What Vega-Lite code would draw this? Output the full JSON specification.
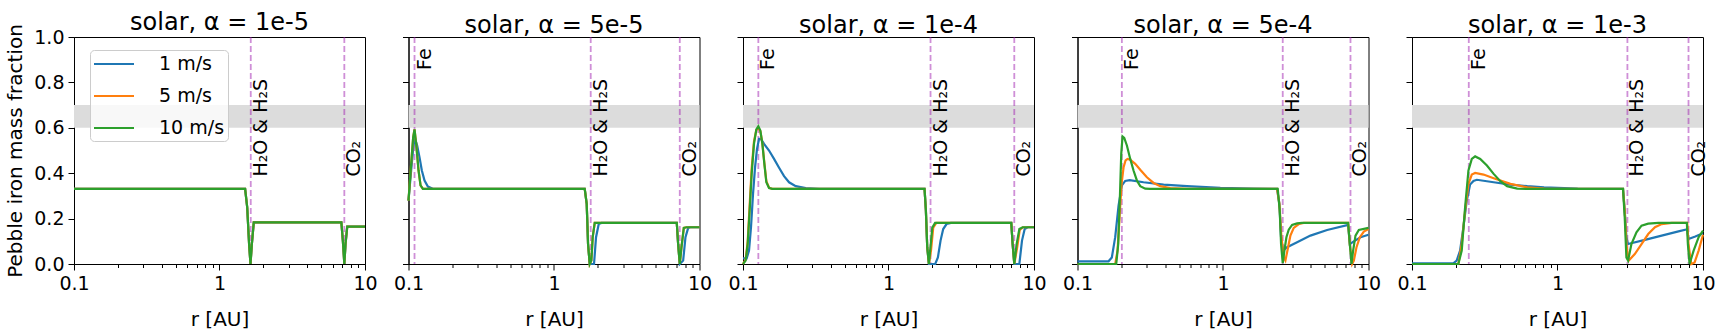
{
  "$schema": "https://vega.github.io/schema/vega-lite/v6.json",
  "background": "white",
  "bounds": "flush",
  "spacing": 43.5,
  "padding": {"top": 10, "left": 5, "right": 5, "bottom": 5},
  "config": {
    "font": "DejaVu Sans",
    "view": {"stroke": "#000000", "strokeWidth": 1},
    "axis": {"grid": false, "domainColor": "#000000", "tickColor": "#000000", "labelColor": "#000000", "titleColor": "#000000", "labelFontSize": 19, "titleFontSize": 20, "titleFontWeight": "normal", "domainWidth": 1, "tickWidth": 1},
    "title": {"fontSize": 24, "fontWeight": "normal", "color": "#000000", "offset": -1.5, "baseline": "alphabetic"},
    "legend": {"orient": "none", "legendX": 16, "legendY": 13, "title": null, "symbolType": "M-2,0L2,0", "symbolSize": 400, "symbolOffset": 10, "symbolStrokeWidth": 2, "labelFontSize": 19, "rowPadding": 11, "labelOffset": 34, "padding": 3, "strokeColor": "#cccccc", "fillColor": "rgba(255,255,255,0.8)", "cornerRadius": 4}
  },
  "datasets": {
    "band": [{"lo": 0.6, "hi": 0.7}],
    "snow": [
      {"p": 1, "n": "H₂O & H₂S", "r": 1.64},
      {"p": 1, "n": "CO₂", "r": 7.21},
      {"p": 2, "n": "Fe", "r": 0.110},
      {"p": 2, "n": "H₂O & H₂S", "r": 1.788},
      {"p": 2, "n": "CO₂", "r": 7.32},
      {"p": 3, "n": "Fe", "r": 0.1275},
      {"p": 3, "n": "H₂O & H₂S", "r": 1.945},
      {"p": 3, "n": "CO₂", "r": 7.32},
      {"p": 4, "n": "Fe", "r": 0.2018},
      {"p": 4, "n": "H₂O & H₂S", "r": 2.574},
      {"p": 4, "n": "CO₂", "r": 7.52},
      {"p": 5, "n": "Fe", "r": 0.2456},
      {"p": 5, "n": "H₂O & H₂S", "r": 3.023},
      {"p": 5, "n": "CO₂", "r": 7.95}
    ],
    "curves": [
      {"p":1,"s":"1 m/s","r":0.1,"f":0.331},{"p":1,"s":"1 m/s","r":1.5,"f":0.331},{"p":1,"s":"1 m/s","r":1.55,"f":0.25},{"p":1,"s":"1 m/s","r":1.6,"f":0.08},{"p":1,"s":"1 m/s","r":1.633,"f":0.0},{"p":1,"s":"1 m/s","r":1.67,"f":0.09},{"p":1,"s":"1 m/s","r":1.72,"f":0.183},{"p":1,"s":"1 m/s","r":6.88,"f":0.183},{"p":1,"s":"1 m/s","r":7.05,"f":0.1},{"p":1,"s":"1 m/s","r":7.21,"f":0.0},{"p":1,"s":"1 m/s","r":7.35,"f":0.09},{"p":1,"s":"1 m/s","r":7.55,"f":0.165},{"p":1,"s":"1 m/s","r":10,"f":0.165},
      {"p":1,"s":"5 m/s","r":0.1,"f":0.331},{"p":1,"s":"5 m/s","r":1.5,"f":0.331},{"p":1,"s":"5 m/s","r":1.55,"f":0.25},{"p":1,"s":"5 m/s","r":1.6,"f":0.08},{"p":1,"s":"5 m/s","r":1.633,"f":0.0},{"p":1,"s":"5 m/s","r":1.67,"f":0.09},{"p":1,"s":"5 m/s","r":1.72,"f":0.183},{"p":1,"s":"5 m/s","r":6.88,"f":0.183},{"p":1,"s":"5 m/s","r":7.05,"f":0.1},{"p":1,"s":"5 m/s","r":7.21,"f":0.0},{"p":1,"s":"5 m/s","r":7.35,"f":0.09},{"p":1,"s":"5 m/s","r":7.55,"f":0.165},{"p":1,"s":"5 m/s","r":10,"f":0.165},
      {"p":1,"s":"10 m/s","r":0.1,"f":0.331},{"p":1,"s":"10 m/s","r":1.5,"f":0.331},{"p":1,"s":"10 m/s","r":1.55,"f":0.25},{"p":1,"s":"10 m/s","r":1.6,"f":0.08},{"p":1,"s":"10 m/s","r":1.633,"f":0.0},{"p":1,"s":"10 m/s","r":1.67,"f":0.09},{"p":1,"s":"10 m/s","r":1.72,"f":0.183},{"p":1,"s":"10 m/s","r":6.88,"f":0.183},{"p":1,"s":"10 m/s","r":7.05,"f":0.1},{"p":1,"s":"10 m/s","r":7.21,"f":0.0},{"p":1,"s":"10 m/s","r":7.35,"f":0.09},{"p":1,"s":"10 m/s","r":7.55,"f":0.165},{"p":1,"s":"10 m/s","r":10,"f":0.165},

      {"p":2,"s":"1 m/s","r":0.1,"f":0.279},{"p":2,"s":"1 m/s","r":0.1043,"f":0.412},{"p":2,"s":"1 m/s","r":0.1082,"f":0.522},{"p":2,"s":"1 m/s","r":0.1111,"f":0.551},{"p":2,"s":"1 m/s","r":0.1147,"f":0.522},{"p":2,"s":"1 m/s","r":0.119,"f":0.471},{"p":2,"s":"1 m/s","r":0.1235,"f":0.412},{"p":2,"s":"1 m/s","r":0.1289,"f":0.368},{"p":2,"s":"1 m/s","r":0.1359,"f":0.341},{"p":2,"s":"1 m/s","r":0.147,"f":0.331},{"p":2,"s":"1 m/s","r":1.626,"f":0.331},{"p":2,"s":"1 m/s","r":1.678,"f":0.265},{"p":2,"s":"1 m/s","r":1.714,"f":0.088},{"p":2,"s":"1 m/s","r":1.76,"f":0.0},{"p":2,"s":"1 m/s","r":1.884,"f":0.0},{"p":2,"s":"1 m/s","r":1.945,"f":0.118},{"p":2,"s":"1 m/s","r":2.03,"f":0.176},{"p":2,"s":"1 m/s","r":2.117,"f":0.181},{"p":2,"s":"1 m/s","r":6.98,"f":0.181},{"p":2,"s":"1 m/s","r":7.13,"f":0.088},{"p":2,"s":"1 m/s","r":7.32,"f":0.0},{"p":2,"s":"1 m/s","r":7.72,"f":0.015},{"p":2,"s":"1 m/s","r":8.01,"f":0.118},{"p":2,"s":"1 m/s","r":8.36,"f":0.159},{"p":2,"s":"1 m/s","r":8.63,"f":0.162},{"p":2,"s":"1 m/s","r":10,"f":0.162},
      {"p":2,"s":"5 m/s","r":0.1,"f":0.279},{"p":2,"s":"5 m/s","r":0.1043,"f":0.441},{"p":2,"s":"5 m/s","r":0.1077,"f":0.559},{"p":2,"s":"5 m/s","r":0.11,"f":0.593},{"p":2,"s":"5 m/s","r":0.1129,"f":0.529},{"p":2,"s":"5 m/s","r":0.1172,"f":0.412},{"p":2,"s":"5 m/s","r":0.121,"f":0.346},{"p":2,"s":"5 m/s","r":0.1256,"f":0.331},{"p":2,"s":"5 m/s","r":1.626,"f":0.331},{"p":2,"s":"5 m/s","r":1.678,"f":0.265},{"p":2,"s":"5 m/s","r":1.714,"f":0.088},{"p":2,"s":"5 m/s","r":1.76,"f":0.0},{"p":2,"s":"5 m/s","r":1.806,"f":0.015},{"p":2,"s":"5 m/s","r":1.845,"f":0.118},{"p":2,"s":"5 m/s","r":1.905,"f":0.181},{"p":2,"s":"5 m/s","r":6.98,"f":0.181},{"p":2,"s":"5 m/s","r":7.13,"f":0.088},{"p":2,"s":"5 m/s","r":7.32,"f":0.0},{"p":2,"s":"5 m/s","r":7.52,"f":0.074},{"p":2,"s":"5 m/s","r":7.8,"f":0.159},{"p":2,"s":"5 m/s","r":8.14,"f":0.162},{"p":2,"s":"5 m/s","r":10,"f":0.162},
      {"p":2,"s":"10 m/s","r":0.1,"f":0.279},{"p":2,"s":"10 m/s","r":0.1043,"f":0.441},{"p":2,"s":"10 m/s","r":0.1077,"f":0.559},{"p":2,"s":"10 m/s","r":0.11,"f":0.593},{"p":2,"s":"10 m/s","r":0.1129,"f":0.529},{"p":2,"s":"10 m/s","r":0.1172,"f":0.412},{"p":2,"s":"10 m/s","r":0.121,"f":0.346},{"p":2,"s":"10 m/s","r":0.1256,"f":0.331},{"p":2,"s":"10 m/s","r":1.626,"f":0.331},{"p":2,"s":"10 m/s","r":1.678,"f":0.265},{"p":2,"s":"10 m/s","r":1.714,"f":0.088},{"p":2,"s":"10 m/s","r":1.76,"f":0.0},{"p":2,"s":"10 m/s","r":1.806,"f":0.015},{"p":2,"s":"10 m/s","r":1.845,"f":0.118},{"p":2,"s":"10 m/s","r":1.905,"f":0.181},{"p":2,"s":"10 m/s","r":6.98,"f":0.181},{"p":2,"s":"10 m/s","r":7.13,"f":0.088},{"p":2,"s":"10 m/s","r":7.32,"f":0.0},{"p":2,"s":"10 m/s","r":7.52,"f":0.074},{"p":2,"s":"10 m/s","r":7.8,"f":0.159},{"p":2,"s":"10 m/s","r":8.14,"f":0.162},{"p":2,"s":"10 m/s","r":10,"f":0.162},

      {"p":3,"s":"1 m/s","r":0.1,"f":0.025},{"p":3,"s":"1 m/s","r":0.106,"f":0.025},{"p":3,"s":"1 m/s","r":0.11,"f":0.059},{"p":3,"s":"1 m/s","r":0.1135,"f":0.162},{"p":3,"s":"1 m/s","r":0.1172,"f":0.309},{"p":3,"s":"1 m/s","r":0.121,"f":0.426},{"p":3,"s":"1 m/s","r":0.1248,"f":0.507},{"p":3,"s":"1 m/s","r":0.1289,"f":0.551},{"p":3,"s":"1 m/s","r":0.133,"f":0.551},{"p":3,"s":"1 m/s","r":0.1395,"f":0.529},{"p":3,"s":"1 m/s","r":0.151,"f":0.5},{"p":3,"s":"1 m/s","r":0.1634,"f":0.463},{"p":3,"s":"1 m/s","r":0.177,"f":0.424},{"p":3,"s":"1 m/s","r":0.1915,"f":0.387},{"p":3,"s":"1 m/s","r":0.2073,"f":0.36},{"p":3,"s":"1 m/s","r":0.2304,"f":0.343},{"p":3,"s":"1 m/s","r":0.2699,"f":0.334},{"p":3,"s":"1 m/s","r":0.3334,"f":0.331},{"p":3,"s":"1 m/s","r":1.769,"f":0.331},{"p":3,"s":"1 m/s","r":1.807,"f":0.235},{"p":3,"s":"1 m/s","r":1.846,"f":0.074},{"p":3,"s":"1 m/s","r":1.895,"f":0.0},{"p":3,"s":"1 m/s","r":2.095,"f":0.0},{"p":3,"s":"1 m/s","r":2.185,"f":0.029},{"p":3,"s":"1 m/s","r":2.279,"f":0.103},{"p":3,"s":"1 m/s","r":2.377,"f":0.154},{"p":3,"s":"1 m/s","r":2.506,"f":0.176},{"p":3,"s":"1 m/s","r":2.685,"f":0.181},{"p":3,"s":"1 m/s","r":6.98,"f":0.181},{"p":3,"s":"1 m/s","r":7.13,"f":0.088},{"p":3,"s":"1 m/s","r":7.32,"f":0.0},{"p":3,"s":"1 m/s","r":7.93,"f":0.0},{"p":3,"s":"1 m/s","r":8.27,"f":0.103},{"p":3,"s":"1 m/s","r":8.63,"f":0.154},{"p":3,"s":"1 m/s","r":9.05,"f":0.162},{"p":3,"s":"1 m/s","r":10,"f":0.162},
      {"p":3,"s":"5 m/s","r":0.1,"f":0.0},{"p":3,"s":"5 m/s","r":0.1043,"f":0.02},{"p":3,"s":"5 m/s","r":0.1077,"f":0.1},{"p":3,"s":"5 m/s","r":0.1111,"f":0.26},{"p":3,"s":"5 m/s","r":0.1147,"f":0.42},{"p":3,"s":"5 m/s","r":0.119,"f":0.54},{"p":3,"s":"5 m/s","r":0.1235,"f":0.59},{"p":3,"s":"5 m/s","r":0.1275,"f":0.6},{"p":3,"s":"5 m/s","r":0.1316,"f":0.585},{"p":3,"s":"5 m/s","r":0.1359,"f":0.53},{"p":3,"s":"5 m/s","r":0.1402,"f":0.445},{"p":3,"s":"5 m/s","r":0.1447,"f":0.365},{"p":3,"s":"5 m/s","r":0.151,"f":0.336},{"p":3,"s":"5 m/s","r":0.159,"f":0.331},{"p":3,"s":"5 m/s","r":1.769,"f":0.331},{"p":3,"s":"5 m/s","r":1.807,"f":0.235},{"p":3,"s":"5 m/s","r":1.846,"f":0.074},{"p":3,"s":"5 m/s","r":1.895,"f":0.0},{"p":3,"s":"5 m/s","r":1.96,"f":0.06},{"p":3,"s":"5 m/s","r":2.03,"f":0.16},{"p":3,"s":"5 m/s","r":2.13,"f":0.181},{"p":3,"s":"5 m/s","r":6.98,"f":0.181},{"p":3,"s":"5 m/s","r":7.13,"f":0.088},{"p":3,"s":"5 m/s","r":7.32,"f":0.0},{"p":3,"s":"5 m/s","r":7.65,"f":0.07},{"p":3,"s":"5 m/s","r":7.98,"f":0.15},{"p":3,"s":"5 m/s","r":8.4,"f":0.162},{"p":3,"s":"5 m/s","r":10,"f":0.162},
      {"p":3,"s":"10 m/s","r":0.1,"f":0.0},{"p":3,"s":"10 m/s","r":0.1043,"f":0.015},{"p":3,"s":"10 m/s","r":0.1077,"f":0.088},{"p":3,"s":"10 m/s","r":0.1111,"f":0.235},{"p":3,"s":"10 m/s","r":0.1147,"f":0.397},{"p":3,"s":"10 m/s","r":0.119,"f":0.529},{"p":3,"s":"10 m/s","r":0.1235,"f":0.593},{"p":3,"s":"10 m/s","r":0.1275,"f":0.607},{"p":3,"s":"10 m/s","r":0.1316,"f":0.588},{"p":3,"s":"10 m/s","r":0.1359,"f":0.529},{"p":3,"s":"10 m/s","r":0.1402,"f":0.441},{"p":3,"s":"10 m/s","r":0.1447,"f":0.36},{"p":3,"s":"10 m/s","r":0.151,"f":0.335},{"p":3,"s":"10 m/s","r":0.159,"f":0.331},{"p":3,"s":"10 m/s","r":1.769,"f":0.331},{"p":3,"s":"10 m/s","r":1.807,"f":0.235},{"p":3,"s":"10 m/s","r":1.846,"f":0.074},{"p":3,"s":"10 m/s","r":1.895,"f":0.0},{"p":3,"s":"10 m/s","r":1.94,"f":0.07},{"p":3,"s":"10 m/s","r":2.0,"f":0.16},{"p":3,"s":"10 m/s","r":2.09,"f":0.181},{"p":3,"s":"10 m/s","r":6.98,"f":0.181},{"p":3,"s":"10 m/s","r":7.13,"f":0.088},{"p":3,"s":"10 m/s","r":7.32,"f":0.0},{"p":3,"s":"10 m/s","r":7.6,"f":0.088},{"p":3,"s":"10 m/s","r":7.93,"f":0.154},{"p":3,"s":"10 m/s","r":8.36,"f":0.162},{"p":3,"s":"10 m/s","r":10,"f":0.162},

      {"p":4,"s":"1 m/s","r":0.1,"f":0.012},{"p":4,"s":"1 m/s","r":0.1634,"f":0.012},{"p":4,"s":"1 m/s","r":0.1722,"f":0.029},{"p":4,"s":"1 m/s","r":0.1816,"f":0.118},{"p":4,"s":"1 m/s","r":0.1915,"f":0.257},{"p":4,"s":"1 m/s","r":0.2018,"f":0.346},{"p":4,"s":"1 m/s","r":0.2128,"f":0.366},{"p":4,"s":"1 m/s","r":0.228,"f":0.369},{"p":4,"s":"1 m/s","r":0.2844,"f":0.36},{"p":4,"s":"1 m/s","r":0.3906,"f":0.35},{"p":4,"s":"1 m/s","r":0.5654,"f":0.343},{"p":4,"s":"1 m/s","r":0.9588,"f":0.335},{"p":4,"s":"1 m/s","r":1.626,"f":0.332},{"p":4,"s":"1 m/s","r":2.353,"f":0.331},{"p":4,"s":"1 m/s","r":2.441,"f":0.265},{"p":4,"s":"1 m/s","r":2.506,"f":0.118},{"p":4,"s":"1 m/s","r":2.587,"f":0.059},{"p":4,"s":"1 m/s","r":2.757,"f":0.074},{"p":4,"s":"1 m/s","r":3.23,"f":0.096},{"p":4,"s":"1 m/s","r":3.99,"f":0.125},{"p":4,"s":"1 m/s","r":5.196,"f":0.15},{"p":4,"s":"1 m/s","r":7.245,"f":0.172},{"p":4,"s":"1 m/s","r":7.44,"f":0.088},{"p":4,"s":"1 m/s","r":7.93,"f":0.1},{"p":4,"s":"1 m/s","r":8.81,"f":0.118},{"p":4,"s":"1 m/s","r":10,"f":0.129},
      {"p":4,"s":"5 m/s","r":0.1,"f":0.0},{"p":4,"s":"5 m/s","r":0.1816,"f":0.0},{"p":4,"s":"5 m/s","r":0.1885,"f":0.059},{"p":4,"s":"5 m/s","r":0.1945,"f":0.206},{"p":4,"s":"5 m/s","r":0.2008,"f":0.353},{"p":4,"s":"5 m/s","r":0.2073,"f":0.426},{"p":4,"s":"5 m/s","r":0.214,"f":0.456},{"p":4,"s":"5 m/s","r":0.2208,"f":0.463},{"p":4,"s":"5 m/s","r":0.2304,"f":0.459},{"p":4,"s":"5 m/s","r":0.2493,"f":0.441},{"p":4,"s":"5 m/s","r":0.2699,"f":0.415},{"p":4,"s":"5 m/s","r":0.2999,"f":0.382},{"p":4,"s":"5 m/s","r":0.3334,"f":0.357},{"p":4,"s":"5 m/s","r":0.3706,"f":0.343},{"p":4,"s":"5 m/s","r":0.4341,"f":0.334},{"p":4,"s":"5 m/s","r":0.5654,"f":0.331},{"p":4,"s":"5 m/s","r":2.353,"f":0.331},{"p":4,"s":"5 m/s","r":2.441,"f":0.265},{"p":4,"s":"5 m/s","r":2.52,"f":0.118},{"p":4,"s":"5 m/s","r":2.615,"f":0.029},{"p":4,"s":"5 m/s","r":2.685,"f":0.015},{"p":4,"s":"5 m/s","r":2.786,"f":0.066},{"p":4,"s":"5 m/s","r":2.906,"f":0.125},{"p":4,"s":"5 m/s","r":3.064,"f":0.159},{"p":4,"s":"5 m/s","r":3.317,"f":0.176},{"p":4,"s":"5 m/s","r":3.589,"f":0.181},{"p":4,"s":"5 m/s","r":7.245,"f":0.181},{"p":4,"s":"5 m/s","r":7.44,"f":0.088},{"p":4,"s":"5 m/s","r":7.72,"f":0.0},{"p":4,"s":"5 m/s","r":7.93,"f":0.015},{"p":4,"s":"5 m/s","r":8.27,"f":0.074},{"p":4,"s":"5 m/s","r":8.72,"f":0.118},{"p":4,"s":"5 m/s","r":9.29,"f":0.143},{"p":4,"s":"5 m/s","r":10,"f":0.154},
      {"p":4,"s":"10 m/s","r":0.1,"f":0.0},{"p":4,"s":"10 m/s","r":0.1846,"f":0.0},{"p":4,"s":"10 m/s","r":0.1905,"f":0.088},{"p":4,"s":"10 m/s","r":0.1956,"f":0.294},{"p":4,"s":"10 m/s","r":0.1998,"f":0.485},{"p":4,"s":"10 m/s","r":0.204,"f":0.562},{"p":4,"s":"10 m/s","r":0.2095,"f":0.556},{"p":4,"s":"10 m/s","r":0.2185,"f":0.522},{"p":4,"s":"10 m/s","r":0.2304,"f":0.463},{"p":4,"s":"10 m/s","r":0.2427,"f":0.412},{"p":4,"s":"10 m/s","r":0.2559,"f":0.368},{"p":4,"s":"10 m/s","r":0.2699,"f":0.343},{"p":4,"s":"10 m/s","r":0.2921,"f":0.332},{"p":4,"s":"10 m/s","r":0.3162,"f":0.331},{"p":4,"s":"10 m/s","r":2.377,"f":0.331},{"p":4,"s":"10 m/s","r":2.454,"f":0.235},{"p":4,"s":"10 m/s","r":2.506,"f":0.088},{"p":4,"s":"10 m/s","r":2.574,"f":0.004},{"p":4,"s":"10 m/s","r":2.642,"f":0.059},{"p":4,"s":"10 m/s","r":2.728,"f":0.118},{"p":4,"s":"10 m/s","r":2.83,"f":0.151},{"p":4,"s":"10 m/s","r":2.985,"f":0.172},{"p":4,"s":"10 m/s","r":3.23,"f":0.179},{"p":4,"s":"10 m/s","r":3.497,"f":0.181},{"p":4,"s":"10 m/s","r":7.245,"f":0.181},{"p":4,"s":"10 m/s","r":7.44,"f":0.088},{"p":4,"s":"10 m/s","r":7.64,"f":0.0},{"p":4,"s":"10 m/s","r":7.84,"f":0.059},{"p":4,"s":"10 m/s","r":8.14,"f":0.125},{"p":4,"s":"10 m/s","r":8.58,"f":0.15},{"p":4,"s":"10 m/s","r":10,"f":0.159},

      {"p":5,"s":"1 m/s","r":0.1,"f":0.003},{"p":5,"s":"1 m/s","r":0.1923,"f":0.003},{"p":5,"s":"1 m/s","r":0.2028,"f":0.015},{"p":5,"s":"1 m/s","r":0.214,"f":0.059},{"p":5,"s":"1 m/s","r":0.2256,"f":0.162},{"p":5,"s":"1 m/s","r":0.2378,"f":0.279},{"p":5,"s":"1 m/s","r":0.2508,"f":0.35},{"p":5,"s":"1 m/s","r":0.2645,"f":0.366},{"p":5,"s":"1 m/s","r":0.279,"f":0.371},{"p":5,"s":"1 m/s","r":0.364,"f":0.36},{"p":5,"s":"1 m/s","r":0.475,"f":0.35},{"p":5,"s":"1 m/s","r":0.6197,"f":0.343},{"p":5,"s":"1 m/s","r":0.8083,"f":0.338},{"p":5,"s":"1 m/s","r":1.376,"f":0.332},{"p":5,"s":"1 m/s","r":2.82,"f":0.331},{"p":5,"s":"1 m/s","r":2.897,"f":0.235},{"p":5,"s":"1 m/s","r":2.975,"f":0.118},{"p":5,"s":"1 m/s","r":3.055,"f":0.088},{"p":5,"s":"1 m/s","r":3.987,"f":0.106},{"p":5,"s":"1 m/s","r":5.2,"f":0.125},{"p":5,"s":"1 m/s","r":6.783,"f":0.144},{"p":5,"s":"1 m/s","r":7.79,"f":0.153},{"p":5,"s":"1 m/s","r":7.95,"f":0.11},{"p":5,"s":"1 m/s","r":8.85,"f":0.121},{"p":5,"s":"1 m/s","r":10,"f":0.135},
      {"p":5,"s":"5 m/s","r":0.1,"f":0.0},{"p":5,"s":"5 m/s","r":0.2083,"f":0.0},{"p":5,"s":"5 m/s","r":0.2197,"f":0.088},{"p":5,"s":"5 m/s","r":0.2317,"f":0.235},{"p":5,"s":"5 m/s","r":0.2443,"f":0.353},{"p":5,"s":"5 m/s","r":0.2576,"f":0.394},{"p":5,"s":"5 m/s","r":0.2716,"f":0.401},{"p":5,"s":"5 m/s","r":0.3103,"f":0.394},{"p":5,"s":"5 m/s","r":0.364,"f":0.378},{"p":5,"s":"5 m/s","r":0.475,"f":0.353},{"p":5,"s":"5 m/s","r":0.6197,"f":0.338},{"p":5,"s":"5 m/s","r":0.8083,"f":0.332},{"p":5,"s":"5 m/s","r":2.82,"f":0.331},{"p":5,"s":"5 m/s","r":2.897,"f":0.235},{"p":5,"s":"5 m/s","r":2.99,"f":0.074},{"p":5,"s":"5 m/s","r":3.087,"f":0.015},{"p":5,"s":"5 m/s","r":3.398,"f":0.044},{"p":5,"s":"5 m/s","r":3.78,"f":0.088},{"p":5,"s":"5 m/s","r":4.203,"f":0.132},{"p":5,"s":"5 m/s","r":4.675,"f":0.162},{"p":5,"s":"5 m/s","r":5.2,"f":0.176},{"p":5,"s":"5 m/s","r":6.1,"f":0.181},{"p":5,"s":"5 m/s","r":7.79,"f":0.181},{"p":5,"s":"5 m/s","r":7.95,"f":0.088},{"p":5,"s":"5 m/s","r":8.3,"f":0.0},{"p":5,"s":"5 m/s","r":8.756,"f":0.007},{"p":5,"s":"5 m/s","r":9.333,"f":0.059},{"p":5,"s":"5 m/s","r":10,"f":0.129},
      {"p":5,"s":"10 m/s","r":0.1,"f":0.0},{"p":5,"s":"10 m/s","r":0.2083,"f":0.0},{"p":5,"s":"10 m/s","r":0.2197,"f":0.059},{"p":5,"s":"10 m/s","r":0.2317,"f":0.25},{"p":5,"s":"10 m/s","r":0.2443,"f":0.412},{"p":5,"s":"10 m/s","r":0.2576,"f":0.463},{"p":5,"s":"10 m/s","r":0.2716,"f":0.474},{"p":5,"s":"10 m/s","r":0.2943,"f":0.463},{"p":5,"s":"10 m/s","r":0.3273,"f":0.434},{"p":5,"s":"10 m/s","r":0.364,"f":0.397},{"p":5,"s":"10 m/s","r":0.405,"f":0.365},{"p":5,"s":"10 m/s","r":0.4503,"f":0.343},{"p":5,"s":"10 m/s","r":0.5284,"f":0.332},{"p":5,"s":"10 m/s","r":0.6197,"f":0.331},{"p":5,"s":"10 m/s","r":2.82,"f":0.331},{"p":5,"s":"10 m/s","r":2.897,"f":0.206},{"p":5,"s":"10 m/s","r":2.975,"f":0.029},{"p":5,"s":"10 m/s","r":3.055,"f":0.015},{"p":5,"s":"10 m/s","r":3.222,"f":0.088},{"p":5,"s":"10 m/s","r":3.489,"f":0.14},{"p":5,"s":"10 m/s","r":3.78,"f":0.169},{"p":5,"s":"10 m/s","r":4.203,"f":0.178},{"p":5,"s":"10 m/s","r":4.93,"f":0.181},{"p":5,"s":"10 m/s","r":7.746,"f":0.181},{"p":5,"s":"10 m/s","r":7.87,"f":0.088},{"p":5,"s":"10 m/s","r":8.085,"f":0.0},{"p":5,"s":"10 m/s","r":8.62,"f":0.059},{"p":5,"s":"10 m/s","r":9.333,"f":0.118},{"p":5,"s":"10 m/s","r":10,"f":0.147}
    ]
  },
  "hconcat": [
    {
      "width": 291, "height": 227,
      "title": {"text": "solar, α = 1e-5", "offset": -11},
      "layer": [
        {"data": {"name": "band"}, "mark": {"type": "rect", "color": "#dcdcdc"},
         "encoding": {"y": {"field": "lo", "type": "quantitative", "scale": {"domain": [0, 1], "nice": false},
           "axis": {"title": "Pebble iron mass fraction", "values": [0, 0.1, 0.2, 0.3, 0.4, 0.5, 0.6, 0.7, 0.8, 0.9, 1], "labelExpr": "round(datum.value*10) % 2 == 0 ? format(datum.value, '.1f') : ''", "tickSize": {"condition": {"test": "round(datum.value*10) % 2 == 0", "value": 6}, "value": 3.5}, "labelFlush": false, "labelOverlap": false, "labelPadding": 4, "titlePadding": 8}},
           "y2": {"field": "hi"}}},
        {"data": {"name": "snow"}, "transform": [{"filter": "datum.p == 1"}],
         "mark": {"type": "rule", "color": "#a020b0", "opacity": 0.5, "strokeDash": [6, 3], "strokeWidth": 1.8},
         "encoding": {"x": {"field": "r", "type": "quantitative", "scale": {"type": "log", "domain": [0.1, 10], "nice": false},
           "axis": {"title": "r [AU]", "values": [0.1, 0.2, 0.3, 0.4, 0.5, 0.6, 0.7, 0.8, 0.9, 1, 2, 3, 4, 5, 6, 7, 8, 9, 10], "labelExpr": "datum.value == 0.1 ? '0.1' : datum.value == 1 ? '1' : datum.value == 10 ? '10' : ''", "tickSize": {"condition": {"test": "datum.value == 0.1 || datum.value == 1 || datum.value == 10", "value": 6}, "value": 3.5}, "labelFlush": false, "labelOverlap": false, "labelPadding": 4, "titlePadding": 16}}}},
        {"data": {"name": "curves"}, "transform": [{"filter": "datum.p == 1"}],
         "mark": {"type": "line", "strokeWidth": 2.2},
         "encoding": {"x": {"field": "r", "type": "quantitative"}, "y": {"field": "f", "type": "quantitative"},
           "color": {"field": "s", "type": "nominal", "scale": {"domain": ["1 m/s", "5 m/s", "10 m/s"], "range": ["#1f77b4", "#ff7f0e", "#2ca02c"]}}}},
        {"data": {"name": "snow"}, "transform": [{"filter": "datum.p == 1 && datum.n != 'Fe'"}],
         "mark": {"type": "text", "angle": 270, "align": "left", "baseline": "top", "fontSize": 19, "dy": 1},
         "encoding": {"x": {"field": "r", "type": "quantitative"}, "y": {"datum": 0.385}, "text": {"field": "n"}}}
      ]
    },
    {
      "width": 291, "height": 227,
      "title": {"text": "solar, α = 5e-5"},
      "layer": [
        {"data": {"name": "band"}, "mark": {"type": "rect", "color": "#dcdcdc"},
         "encoding": {"y": {"field": "lo", "type": "quantitative", "scale": {"domain": [0, 1], "nice": false},
           "axis": {"title": null, "labels": false, "values": [0, 0.1, 0.2, 0.3, 0.4, 0.5, 0.6, 0.7, 0.8, 0.9, 1], "tickSize": {"condition": {"test": "round(datum.value*10) % 2 == 0", "value": 6}, "value": 3.5}}},
           "y2": {"field": "hi"}}},
        {"data": {"name": "snow"}, "transform": [{"filter": "datum.p == 2"}],
         "mark": {"type": "rule", "color": "#a020b0", "opacity": 0.5, "strokeDash": [6, 3], "strokeWidth": 1.8},
         "encoding": {"x": {"field": "r", "type": "quantitative", "scale": {"type": "log", "domain": [0.1, 10], "nice": false},
           "axis": {"title": "r [AU]", "values": [0.1, 0.2, 0.3, 0.4, 0.5, 0.6, 0.7, 0.8, 0.9, 1, 2, 3, 4, 5, 6, 7, 8, 9, 10], "labelExpr": "datum.value == 0.1 ? '0.1' : datum.value == 1 ? '1' : datum.value == 10 ? '10' : ''", "tickSize": {"condition": {"test": "datum.value == 0.1 || datum.value == 1 || datum.value == 10", "value": 6}, "value": 3.5}, "labelFlush": false, "labelOverlap": false, "labelPadding": 4, "titlePadding": 16}}}},
        {"data": {"name": "curves"}, "transform": [{"filter": "datum.p == 2"}],
         "mark": {"type": "line", "strokeWidth": 2.2},
         "encoding": {"x": {"field": "r", "type": "quantitative"}, "y": {"field": "f", "type": "quantitative"},
           "color": {"field": "s", "type": "nominal", "scale": {"domain": ["1 m/s", "5 m/s", "10 m/s"], "range": ["#1f77b4", "#ff7f0e", "#2ca02c"]}}}},
        {"data": {"name": "snow"}, "transform": [{"filter": "datum.p == 2 && datum.n != 'Fe'"}],
         "mark": {"type": "text", "angle": 270, "align": "left", "baseline": "top", "fontSize": 19, "dy": 1},
         "encoding": {"x": {"field": "r", "type": "quantitative"}, "y": {"datum": 0.385}, "text": {"field": "n"}}},
        {"data": {"name": "snow"}, "transform": [{"filter": "datum.p == 2 && datum.n == 'Fe'"}],
         "mark": {"type": "text", "angle": 270, "align": "left", "baseline": "top", "fontSize": 19, "dy": 1},
         "encoding": {"x": {"field": "r", "type": "quantitative"}, "y": {"datum": 0.855}, "text": {"field": "n"}}}
      ]
    },
    {
      "width": 291, "height": 227,
      "title": {"text": "solar, α = 1e-4"},
      "layer": [
        {"data": {"name": "band"}, "mark": {"type": "rect", "color": "#dcdcdc"},
         "encoding": {"y": {"field": "lo", "type": "quantitative", "scale": {"domain": [0, 1], "nice": false},
           "axis": {"title": null, "labels": false, "values": [0, 0.1, 0.2, 0.3, 0.4, 0.5, 0.6, 0.7, 0.8, 0.9, 1], "tickSize": {"condition": {"test": "round(datum.value*10) % 2 == 0", "value": 6}, "value": 3.5}}},
           "y2": {"field": "hi"}}},
        {"data": {"name": "snow"}, "transform": [{"filter": "datum.p == 3"}],
         "mark": {"type": "rule", "color": "#a020b0", "opacity": 0.5, "strokeDash": [6, 3], "strokeWidth": 1.8},
         "encoding": {"x": {"field": "r", "type": "quantitative", "scale": {"type": "log", "domain": [0.1, 10], "nice": false},
           "axis": {"title": "r [AU]", "values": [0.1, 0.2, 0.3, 0.4, 0.5, 0.6, 0.7, 0.8, 0.9, 1, 2, 3, 4, 5, 6, 7, 8, 9, 10], "labelExpr": "datum.value == 0.1 ? '0.1' : datum.value == 1 ? '1' : datum.value == 10 ? '10' : ''", "tickSize": {"condition": {"test": "datum.value == 0.1 || datum.value == 1 || datum.value == 10", "value": 6}, "value": 3.5}, "labelFlush": false, "labelOverlap": false, "labelPadding": 4, "titlePadding": 16}}}},
        {"data": {"name": "curves"}, "transform": [{"filter": "datum.p == 3"}],
         "mark": {"type": "line", "strokeWidth": 2.2},
         "encoding": {"x": {"field": "r", "type": "quantitative"}, "y": {"field": "f", "type": "quantitative"},
           "color": {"field": "s", "type": "nominal", "scale": {"domain": ["1 m/s", "5 m/s", "10 m/s"], "range": ["#1f77b4", "#ff7f0e", "#2ca02c"]}}}},
        {"data": {"name": "snow"}, "transform": [{"filter": "datum.p == 3 && datum.n != 'Fe'"}],
         "mark": {"type": "text", "angle": 270, "align": "left", "baseline": "top", "fontSize": 19, "dy": 1},
         "encoding": {"x": {"field": "r", "type": "quantitative"}, "y": {"datum": 0.385}, "text": {"field": "n"}}},
        {"data": {"name": "snow"}, "transform": [{"filter": "datum.p == 3 && datum.n == 'Fe'"}],
         "mark": {"type": "text", "angle": 270, "align": "left", "baseline": "top", "fontSize": 19, "dy": 1},
         "encoding": {"x": {"field": "r", "type": "quantitative"}, "y": {"datum": 0.855}, "text": {"field": "n"}}}
      ]
    },
    {
      "width": 291, "height": 227,
      "title": {"text": "solar, α = 5e-4"},
      "layer": [
        {"data": {"name": "band"}, "mark": {"type": "rect", "color": "#dcdcdc"},
         "encoding": {"y": {"field": "lo", "type": "quantitative", "scale": {"domain": [0, 1], "nice": false},
           "axis": {"title": null, "labels": false, "values": [0, 0.1, 0.2, 0.3, 0.4, 0.5, 0.6, 0.7, 0.8, 0.9, 1], "tickSize": {"condition": {"test": "round(datum.value*10) % 2 == 0", "value": 6}, "value": 3.5}}},
           "y2": {"field": "hi"}}},
        {"data": {"name": "snow"}, "transform": [{"filter": "datum.p == 4"}],
         "mark": {"type": "rule", "color": "#a020b0", "opacity": 0.5, "strokeDash": [6, 3], "strokeWidth": 1.8},
         "encoding": {"x": {"field": "r", "type": "quantitative", "scale": {"type": "log", "domain": [0.1, 10], "nice": false},
           "axis": {"title": "r [AU]", "values": [0.1, 0.2, 0.3, 0.4, 0.5, 0.6, 0.7, 0.8, 0.9, 1, 2, 3, 4, 5, 6, 7, 8, 9, 10], "labelExpr": "datum.value == 0.1 ? '0.1' : datum.value == 1 ? '1' : datum.value == 10 ? '10' : ''", "tickSize": {"condition": {"test": "datum.value == 0.1 || datum.value == 1 || datum.value == 10", "value": 6}, "value": 3.5}, "labelFlush": false, "labelOverlap": false, "labelPadding": 4, "titlePadding": 16}}}},
        {"data": {"name": "curves"}, "transform": [{"filter": "datum.p == 4"}],
         "mark": {"type": "line", "strokeWidth": 2.2},
         "encoding": {"x": {"field": "r", "type": "quantitative"}, "y": {"field": "f", "type": "quantitative"},
           "color": {"field": "s", "type": "nominal", "scale": {"domain": ["1 m/s", "5 m/s", "10 m/s"], "range": ["#1f77b4", "#ff7f0e", "#2ca02c"]}}}},
        {"data": {"name": "snow"}, "transform": [{"filter": "datum.p == 4 && datum.n != 'Fe'"}],
         "mark": {"type": "text", "angle": 270, "align": "left", "baseline": "top", "fontSize": 19, "dy": 1},
         "encoding": {"x": {"field": "r", "type": "quantitative"}, "y": {"datum": 0.385}, "text": {"field": "n"}}},
        {"data": {"name": "snow"}, "transform": [{"filter": "datum.p == 4 && datum.n == 'Fe'"}],
         "mark": {"type": "text", "angle": 270, "align": "left", "baseline": "top", "fontSize": 19, "dy": 1},
         "encoding": {"x": {"field": "r", "type": "quantitative"}, "y": {"datum": 0.855}, "text": {"field": "n"}}}
      ]
    },
    {
      "width": 291, "height": 227,
      "title": {"text": "solar, α = 1e-3"},
      "layer": [
        {"data": {"name": "band"}, "mark": {"type": "rect", "color": "#dcdcdc"},
         "encoding": {"y": {"field": "lo", "type": "quantitative", "scale": {"domain": [0, 1], "nice": false},
           "axis": {"title": null, "labels": false, "values": [0, 0.1, 0.2, 0.3, 0.4, 0.5, 0.6, 0.7, 0.8, 0.9, 1], "tickSize": {"condition": {"test": "round(datum.value*10) % 2 == 0", "value": 6}, "value": 3.5}}},
           "y2": {"field": "hi"}}},
        {"data": {"name": "snow"}, "transform": [{"filter": "datum.p == 5"}],
         "mark": {"type": "rule", "color": "#a020b0", "opacity": 0.5, "strokeDash": [6, 3], "strokeWidth": 1.8},
         "encoding": {"x": {"field": "r", "type": "quantitative", "scale": {"type": "log", "domain": [0.1, 10], "nice": false},
           "axis": {"title": "r [AU]", "values": [0.1, 0.2, 0.3, 0.4, 0.5, 0.6, 0.7, 0.8, 0.9, 1, 2, 3, 4, 5, 6, 7, 8, 9, 10], "labelExpr": "datum.value == 0.1 ? '0.1' : datum.value == 1 ? '1' : datum.value == 10 ? '10' : ''", "tickSize": {"condition": {"test": "datum.value == 0.1 || datum.value == 1 || datum.value == 10", "value": 6}, "value": 3.5}, "labelFlush": false, "labelOverlap": false, "labelPadding": 4, "titlePadding": 16}}}},
        {"data": {"name": "curves"}, "transform": [{"filter": "datum.p == 5"}],
         "mark": {"type": "line", "strokeWidth": 2.2},
         "encoding": {"x": {"field": "r", "type": "quantitative"}, "y": {"field": "f", "type": "quantitative"},
           "color": {"field": "s", "type": "nominal", "scale": {"domain": ["1 m/s", "5 m/s", "10 m/s"], "range": ["#1f77b4", "#ff7f0e", "#2ca02c"]}}}},
        {"data": {"name": "snow"}, "transform": [{"filter": "datum.p == 5 && datum.n != 'Fe'"}],
         "mark": {"type": "text", "angle": 270, "align": "left", "baseline": "top", "fontSize": 19, "dy": 1},
         "encoding": {"x": {"field": "r", "type": "quantitative"}, "y": {"datum": 0.385}, "text": {"field": "n"}}},
        {"data": {"name": "snow"}, "transform": [{"filter": "datum.p == 5 && datum.n == 'Fe'"}],
         "mark": {"type": "text", "angle": 270, "align": "left", "baseline": "top", "fontSize": 19, "dy": 1},
         "encoding": {"x": {"field": "r", "type": "quantitative"}, "y": {"datum": 0.855}, "text": {"field": "n"}}}
      ]
    }
  ]
}
